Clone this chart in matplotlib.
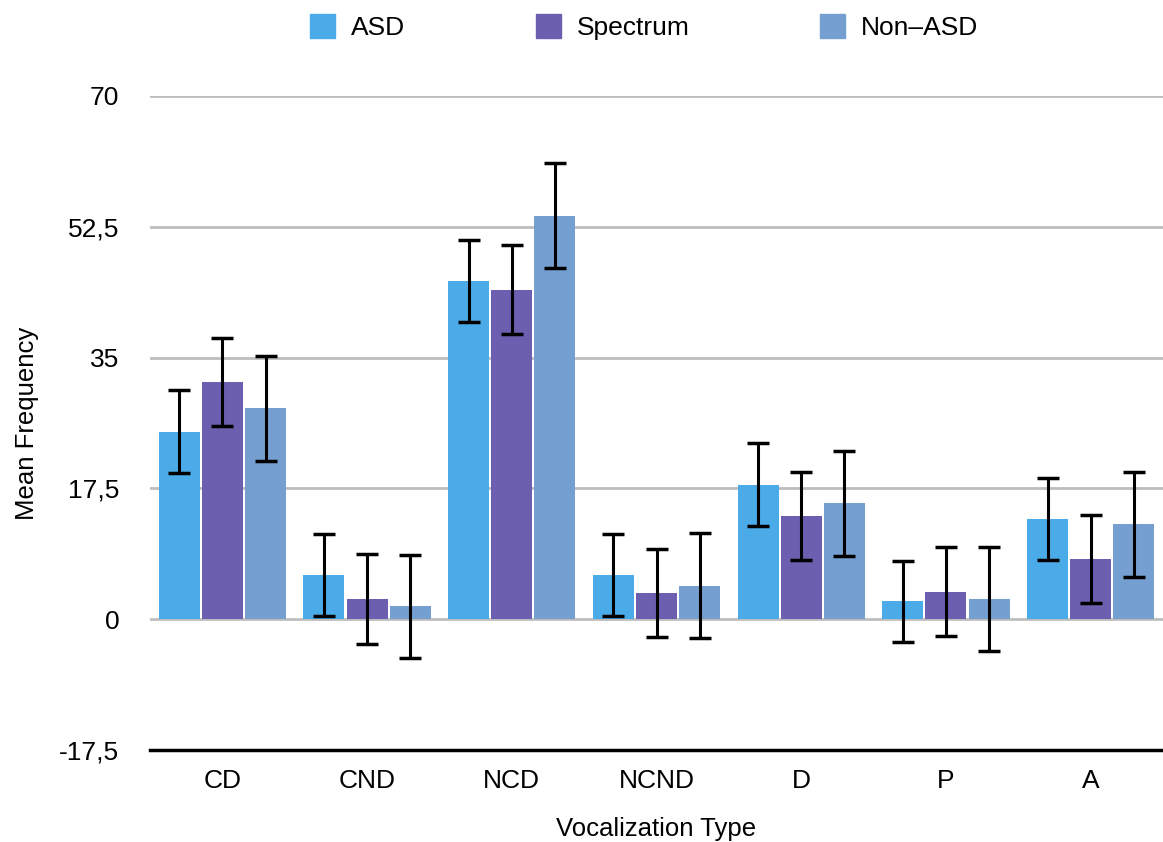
import numpy as np
import matplotlib.pyplot as plt
from matplotlib.patches import Patch

plt.rcParams['font.family'] = ['Liberation Sans', 'DejaVu Sans']

categories = ['CD', 'CND', 'NCD', 'NCND', 'D', 'P', 'A']
asd = [25.1, 5.9, 45.2, 5.9, 18.0, 2.4, 13.4]
spectrum = [31.7, 2.7, 44.1, 3.5, 13.8, 3.7, 8.0]
non_asd = [28.2, 1.7, 54.0, 4.5, 15.5, 2.7, 12.7]
asd_err = [5.6, 5.5, 5.5, 5.5, 5.6, 5.4, 5.5]
spectrum_err = [5.9, 6.0, 5.9, 5.9, 5.9, 5.9, 5.9]
non_asd_err = [7.0, 6.9, 7.0, 7.0, 7.0, 7.0, 7.0]

series = [('ASD', asd, asd_err, '#4BAAE8'),
          ('Spectrum', spectrum, spectrum_err, '#6C5FAF'),
          ('Non\u2013ASD', non_asd, non_asd_err, '#769FD1')]

fig = plt.figure(figsize=(11.63, 8.42), dpi=100)
ax = fig.add_axes([0.129, 0.1093, 0.871, 0.7767])

x = np.arange(len(categories))
w = 0.295
offsets = [-w - 0.003, 0, w + 0.003]
for (name, vals, errs, col), off in zip(series, offsets):
    ax.bar(x + off, vals, width=w - 0.012, color=col, label=name, zorder=2)
    ax.errorbar(x + off, vals, yerr=errs, fmt='none', ecolor='black',
                elinewidth=2.2, capsize=8, capthick=2.5, zorder=3)

ax.set_xlim(-0.5, len(categories) - 0.5)
ax.set_ylim(-17.5, 70)
yt = [-17.5, 0, 17.5, 35, 52.5, 70]
ax.set_yticks(yt)
ax.set_yticklabels([f'{v:g}'.replace('.', ',') for v in yt])
ax.set_xticks(x)
ax.set_xticklabels(categories)
ax.tick_params(axis='both', length=0, labelsize=19)
ax.tick_params(axis='y', pad=22)
ax.tick_params(axis='x', pad=14)

for v in yt[1:]:
    ax.axhline(v, color='#BDBDBD', lw=2, zorder=1)

for s in ['top', 'right', 'left']:
    ax.spines[s].set_visible(False)
ax.spines['bottom'].set_linewidth(2.5)
ax.spines['bottom'].set_color('black')

ax.set_xlabel('Vocalization Type', fontsize=18.5, labelpad=17)
ax.set_ylabel('Mean Frequency', fontsize=18.5, labelpad=15)

handles = [Patch(color=c) for _, _, _, c in series]
fig.legend(handles, [s[0] for s in series], loc='center',
           bbox_to_anchor=(0.554, 0.968), ncol=3, frameon=False,
           fontsize=19, handlelength=0.95, handleheight=1.0,
           columnspacing=4.95, handletextpad=0.6)

fig.savefig('out.png', dpi=100)
